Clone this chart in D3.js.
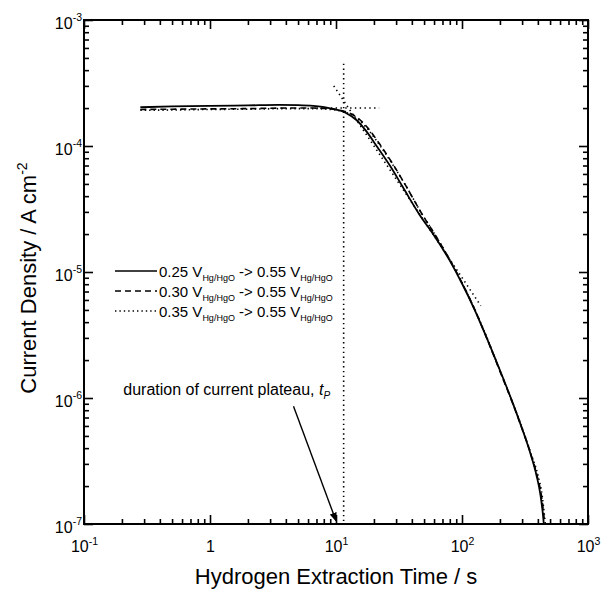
<!DOCTYPE html>
<html>
<head>
<meta charset="utf-8">
<script src="https://cdn.jsdelivr.net/npm/d3@7"></script>
<style>
  body { margin: 0; background: #fff; }
  svg { display: block; }
  text { font-family: "Liberation Sans", Arial, Helvetica, sans-serif; fill: #000; }
</style>
</head>
<body>
<svg id="chart" width="612" height="592"></svg>
<script>
// Hydrogen extraction transients: time (s) vs current density (A cm^-2)
// Step from three starting potentials to 0.55 V vs Hg/HgO
const seriesStart = ["0.25", "0.30", "0.35"];
const seriesEnd = "0.55";

const solidT = [0.28, 0.5, 1, 2, 3.5, 5, 6.6, 9, 12, 14.6, 17.5, 21, 27, 34, 46, 60, 80, 100, 125, 150, 200, 250, 300, 350, 390, 420, 440, 446];
const solidJ = [2.03e-4, 2.06e-4, 2.08e-4, 2.10e-4, 2.12e-4, 2.11e-4, 2.08e-4, 1.99e-4, 1.83e-4, 1.60e-4, 1.30e-4, 1.0e-4, 6.9e-5, 4.7e-5, 2.85e-5, 1.95e-5, 1.23e-5, 8.1e-6, 5.1e-6, 3.35e-6, 1.66e-6, 9.4e-7, 5.7e-7, 3.6e-7, 2.44e-7, 1.69e-7, 1.16e-7, 1.0e-7];

const dashedT = [0.28, 0.5, 1, 2, 4, 6.6, 9, 12, 15, 18, 22, 28, 36, 48, 62, 80, 100, 125, 150, 200, 250, 300, 350, 395, 428, 447, 453];
const dashedJ = [1.95e-4, 1.96e-4, 1.97e-4, 1.98e-4, 2.0e-4, 2.0e-4, 1.97e-4, 1.87e-4, 1.66e-4, 1.38e-4, 1.05e-4, 7.3e-5, 4.8e-5, 2.9e-5, 1.93e-5, 1.25e-5, 8.2e-6, 5.15e-6, 3.35e-6, 1.63e-6, 9.3e-7, 5.7e-7, 3.65e-7, 2.4e-7, 1.65e-7, 1.15e-7, 1.0e-7];

const dottedT = [0.28, 0.5, 1, 2, 4, 6.6, 9, 12, 15, 18, 22, 28, 36, 48, 62, 80, 100, 125, 150, 200, 250, 300, 350, 400, 432, 452, 459];
const dottedJ = [1.92e-4, 1.93e-4, 1.95e-4, 1.96e-4, 1.98e-4, 1.98e-4, 1.95e-4, 1.85e-4, 1.63e-4, 1.35e-4, 1.03e-4, 7.2e-5, 4.8e-5, 2.9e-5, 1.93e-5, 1.25e-5, 8.2e-6, 5.15e-6, 3.4e-6, 1.65e-6, 9.4e-7, 5.8e-7, 3.7e-7, 2.45e-7, 1.7e-7, 1.15e-7, 1.0e-7];

// Plateau-length construction: plateau level, descending tangent, intersection time
const plateauT = [7, 22];
const plateauJ = [2.0e-4, 2.0e-4];
const tangentT = [9.6, 141];
const tangentJ = [3.0e-4, 5.4e-6];
const markerT = [11.5, 11.5];
const markerJ = [4.5e-4, 1e-7];

// Arrow pointing at t_P on the time axis
const arrowT = [4.6, 10];
const arrowJ = [8.6e-7, 1.06e-7];
const noteT = 0.205;
const noteJ = 1.06e-6;

// Axis decades
const xMajor = [0.1, 1, 10, 100, 1000];
const xMajorLabels = [["10", "-1"], ["1", ""], ["10", "1"], ["10", "2"], ["10", "3"]];
const yMajor = [1e-7, 1e-6, 1e-5, 1e-4, 1e-3];
const yMajorLabels = [["10", "-7"], ["10", "-6"], ["10", "-5"], ["10", "-4"], ["10", "-3"]];

const svg = d3.select("#chart");
const L = 84, R = 588, T = 20, B = 524;

const x = d3.scaleLog().domain([0.1, 1000]).range([L, R]);
const y = d3.scaleLog().domain([1e-7, 1e-3]).range([B, T]);

function minors(lo, hi) {
  const out = [];
  for (let e = lo; e < hi; e++) for (let m = 2; m <= 9; m++) out.push(m * Math.pow(10, e));
  return out;
}
const xMinor = minors(-1, 3);
const yMinor = minors(-7, -3);

const axes = svg.append("g");
function styleAxis(g) {
  g.select(".domain").remove();
  g.selectAll(".tick line").attr("stroke", "#000").attr("stroke-width", 1.6);
}

// bottom
axes.append("g").attr("transform", `translate(0,${B})`)
  .call(d3.axisBottom(x).tickValues(xMinor).tickSize(-5).tickSizeOuter(0).tickFormat(""))
  .call(styleAxis);
const xb = axes.append("g").attr("transform", `translate(0,${B})`)
  .call(d3.axisBottom(x).tickValues(xMajor).tickSize(-9).tickSizeOuter(0).tickPadding(17))
  .call(styleAxis);
xb.selectAll(".tick text").each(function (d, i) {
  const t = d3.select(this).text("").attr("font-size", 16).attr("dy", "0.71em");
  const lab = xMajorLabels[i];
  t.append("tspan").text(lab[0]);
  if (lab[1]) t.append("tspan").attr("dy", -7).attr("font-size", 10.5).text(lab[1]);
});

// top
axes.append("g").attr("transform", `translate(0,${T})`)
  .call(d3.axisTop(x).tickValues(xMinor).tickSize(-5).tickSizeOuter(0).tickFormat(""))
  .call(styleAxis);
axes.append("g").attr("transform", `translate(0,${T})`)
  .call(d3.axisTop(x).tickValues(xMajor).tickSize(-9).tickSizeOuter(0).tickFormat(""))
  .call(styleAxis);

// left
axes.append("g").attr("transform", `translate(${L},0)`)
  .call(d3.axisLeft(y).tickValues(yMinor).tickSize(-5).tickSizeOuter(0).tickFormat(""))
  .call(styleAxis);
const yl = axes.append("g").attr("transform", `translate(${L},0)`)
  .call(d3.axisLeft(y).tickValues(yMajor).tickSize(-9).tickSizeOuter(0).tickPadding(2))
  .call(styleAxis);
yl.selectAll(".tick text").each(function (d, i) {
  const t = d3.select(this).text("").attr("font-size", 16).attr("dy", "0.5em");
  const lab = yMajorLabels[i];
  t.append("tspan").text(lab[0]);
  t.append("tspan").attr("dy", -8).attr("font-size", 10.5).text(lab[1]);
});

// right
axes.append("g").attr("transform", `translate(${R},0)`)
  .call(d3.axisRight(y).tickValues(yMinor).tickSize(-5).tickSizeOuter(0).tickFormat(""))
  .call(styleAxis);
axes.append("g").attr("transform", `translate(${R},0)`)
  .call(d3.axisRight(y).tickValues(yMajor).tickSize(-9).tickSizeOuter(0).tickFormat(""))
  .call(styleAxis);

// frame
svg.append("rect").attr("x", L).attr("y", T).attr("width", R - L).attr("height", B - T)
  .attr("fill", "none").attr("stroke", "#000").attr("stroke-width", 2);

const line = d3.line().x(d => x(d[0])).y(d => y(d[1])).curve(d3.curveMonotoneX);
const straight = d3.line().x(d => x(d[0])).y(d => y(d[1]));
const zip = (a, b) => a.map((v, i) => [v, b[i]]);

const plot = svg.append("g");

// construction lines
const guide = { stroke: "#000", "stroke-width": 1.6, "stroke-dasharray": "1.4,3.4", fill: "none" };
[[plateauT, plateauJ], [tangentT, tangentJ], [markerT, markerJ]].forEach(([a, b]) => {
  const p = plot.append("path").attr("d", straight(zip(a, b)));
  Object.entries(guide).forEach(([k, v]) => p.attr(k, v));
});

// data curves
const styles = [
  { t: solidT, j: solidJ, dash: null, w: 1.8 },
  { t: dashedT, j: dashedJ, dash: "6,4", w: 1.6 },
  { t: dottedT, j: dottedJ, dash: "1.4,3", w: 1.6 }
];
styles.forEach(s => {
  plot.append("path").attr("d", line(zip(s.t, s.j)))
    .attr("fill", "none").attr("stroke", "#000").attr("stroke-width", s.w)
    .attr("stroke-dasharray", s.dash);
});

// legend
const leg = svg.append("g");
const legY = [271, 291, 311];
styles.forEach((s, i) => {
  leg.append("line").attr("x1", 115).attr("x2", 157).attr("y1", legY[i]).attr("y2", legY[i])
    .attr("stroke", "#000").attr("stroke-width", 1.5).attr("stroke-dasharray", s.dash);
  const t = leg.append("text").attr("x", 159).attr("y", legY[i] + 5.5).attr("font-size", 15);
  t.append("tspan").text(`${seriesStart[i]} V`);
  t.append("tspan").attr("font-size", 9).attr("dy", 4).text("Hg/HgO");
  t.append("tspan").attr("dy", -4).text(` -> ${seriesEnd} V`);
  t.append("tspan").attr("font-size", 9).attr("dy", 4).text("Hg/HgO");
});

// annotation
const note = svg.append("text").attr("x", x(noteT)).attr("y", y(noteJ)).attr("font-size", 16);
note.append("tspan").text("duration of current plateau, ");
note.append("tspan").attr("font-style", "italic").text("t");
note.append("tspan").attr("font-style", "italic").attr("font-size", 10).attr("dy", 4).text("P");

svg.append("defs").append("marker").attr("id", "head")
  .attr("viewBox", "0 0 10 10").attr("refX", 9).attr("refY", 5)
  .attr("markerWidth", 9).attr("markerHeight", 9).attr("markerUnits", "userSpaceOnUse")
  .attr("orient", "auto")
  .append("path").attr("d", "M0,1 L10,5 L0,9 Z").attr("fill", "#000");
svg.append("path").attr("d", straight(zip(arrowT, arrowJ)))
  .attr("stroke", "#000").attr("stroke-width", 1.4).attr("fill", "none")
  .attr("marker-end", "url(#head)");

// axis titles
svg.append("text").attr("x", (L + R) / 2).attr("y", 584).attr("text-anchor", "middle")
  .attr("font-size", 22).text("Hydrogen Extraction Time / s");
const yt = svg.append("text").attr("transform", `translate(36,${(T + B) / 2 + 6}) rotate(-90)`)
  .attr("text-anchor", "middle").attr("font-size", 22);
yt.append("tspan").text("Current Density / A cm");
yt.append("tspan").attr("dy", -9).attr("font-size", 14).text("-2");
</script>
</body>
</html>
